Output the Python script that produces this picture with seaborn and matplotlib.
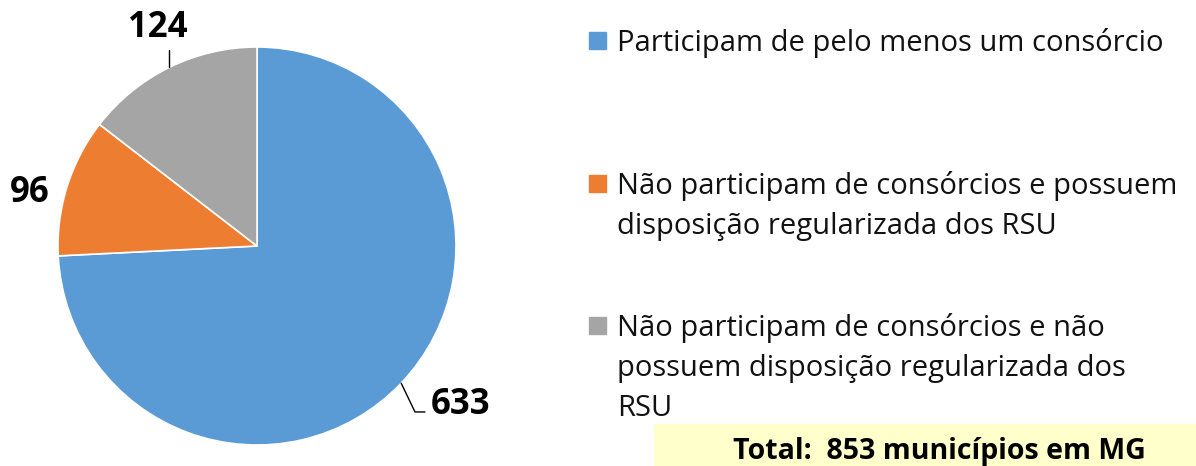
import numpy as np
import matplotlib
matplotlib.use("Agg")
import matplotlib.pyplot as plt
from matplotlib.patches import Rectangle
import seaborn as sns

# data
values = [633, 96, 124]
labels = [
    ["Participam de pelo menos um consórcio"],
    ["Não participam de consórcios e possuem", "disposição regularizada dos RSU"],
    ["Não participam de consórcios e não", "possuem disposição regularizada dos", "RSU"],
]
colors = ["#5B9BD5", "#ED7D31", "#A5A5A5"]
total_text = "Total:  853 municípios em MG"

sns.set_theme(style="white")
plt.rcParams["font.family"] = ["Open Sans", "DejaVu Sans"]

W, H = 1196, 466
fig = plt.figure(figsize=(W / 100, H / 100), dpi=100)

def fx(px):
    return px / W

def fy(py):
    return 1 - py / H

# pie centred at (257, 246), radius ~199 px
R = 199
ax = fig.add_axes([fx(257 - R), fy(246 + R), fx(2 * R), 2 * R / H])
wedges, _ = ax.pie(values, colors=sns.color_palette(colors), startangle=90,
                   counterclock=False, radius=1,
                   wedgeprops=dict(edgecolor="white", linewidth=1.2))
ax.set_xlim(-1, 1)
ax.set_ylim(-1, 1)
ax.set_aspect("equal")
ax.axis("off")

lab_kw = dict(fontsize=25, fontweight="bold", color="black")
for w, v in zip(wedges, values):
    mid = np.deg2rad((w.theta1 + w.theta2) / 2)
    ex, ey = np.cos(mid), np.sin(mid)
    if v == 633:
        # leader line down-right then a short horizontal tail
        ax.plot([ex, 0.794, 0.844], [ey, -0.834, -0.834], color="black", lw=1)
        ax.text(0.875, -0.80, str(v), ha="left", va="center", **lab_kw)
    elif v == 124:
        ax.plot([ex, ex], [ey, 0.985], color="black", lw=1)
        ax.text(ex - 0.06, 1.095, str(v), ha="center", va="center", **lab_kw)
    else:
        ax.text(ex - 0.19, ey - 0.035, str(v), ha="center", va="center", **lab_kw)

# legend drawn by hand so the marker sits on the first line
first_base = [51, 194, 336]
for lines, col, yb in zip(labels, colors, first_base):
    fig.patches.append(Rectangle((fx(589), fy(yb - 2)), fx(17), 17 / H,
                                 transform=fig.transFigure, color=col, zorder=3))
    for k, line in enumerate(lines):
        fig.text(fx(617), fy(yb + 40 * k), line, fontsize=21,
                 va="baseline", ha="left", color="#111111")

# total box (runs past the right and bottom edges)
fig.patches.append(Rectangle((fx(654), fy(480)), fx(600), 56 / H,
                             transform=fig.transFigure, color="#FFFFCC",
                             zorder=0))
fig.text(fx(939), fy(459), total_text, fontsize=20.5, fontweight="bold",
         ha="center", va="baseline", color="black")

fig.savefig("out.png", dpi=100)
